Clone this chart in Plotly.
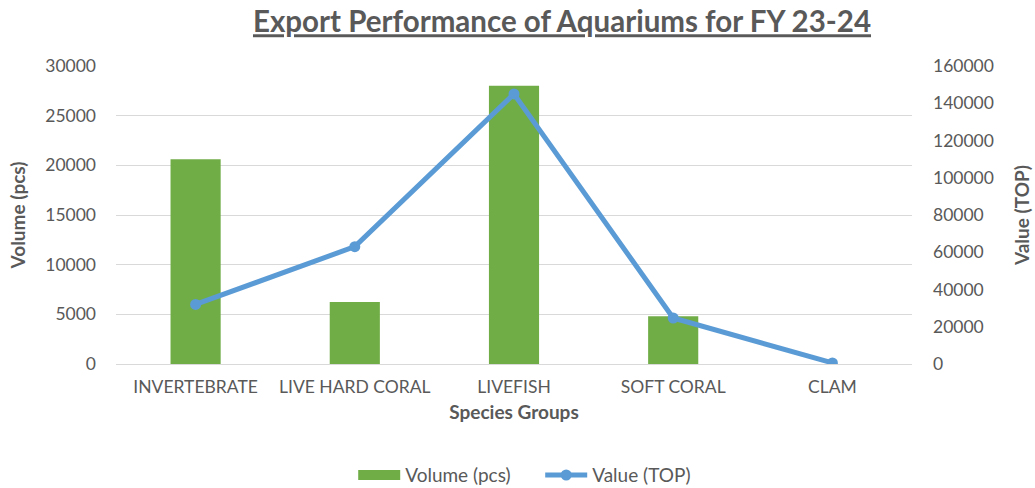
import plotly.graph_objects as go

categories = ["INVERTEBRATE", "LIVE HARD CORAL", "LIVEFISH", "SOFT CORAL", "CLAM"]
volume_pcs = [20600, 6250, 28000, 4800, 0]
value_top = [32000, 63000, 145000, 24700, 600]

FONT = "Lato"
GRAY = "#595959"
GREEN = "#70AD47"
BLUE = "#5B9BD5"

fig = go.Figure()
fig.add_trace(go.Bar(
    x=categories, y=volume_pcs, name="Volume (pcs)",
    marker=dict(color=GREEN, line=dict(width=0)),
    yaxis="y", showlegend=False,
))
# legend entry for the bars drawn as a wide block
fig.add_trace(go.Scatter(
    x=[None], y=[None], name="Volume (pcs)", mode="lines",
    line=dict(color=GREEN, width=12), yaxis="y",
))
fig.add_trace(go.Scatter(
    x=categories, y=value_top, name="Value (TOP)",
    mode="lines+markers",
    line=dict(color=BLUE, width=5),
    marker=dict(color=BLUE, size=11),
    yaxis="y2",
))

fig.update_layout(
    width=1035, height=488,
    paper_bgcolor="white", plot_bgcolor="white",
    margin=dict(l=116, r=123, t=66, b=124, autoexpand=False),
    bargap=0.685,
    font=dict(family=FONT, color=GRAY, size=16),
    title=dict(
        text="<u>Export Performance of Aquariums for FY 23-24</u>",
        x=0.543, xanchor="center", y=0.955, yanchor="middle",
        font=dict(family=FONT, size=29.5, color=GRAY, weight="bold"),
    ),
    xaxis=dict(
        title=dict(text="Species Groups", font=dict(size=19, weight="bold", color=GRAY), standoff=10),
        tickfont=dict(size=17.5, color=GRAY),
        showgrid=False, showline=False, ticks="", automargin=False,
        ticklabelstandoff=10,
    ),
    yaxis=dict(
        title=dict(text="Volume (pcs)", font=dict(size=19, weight="bold", color=GRAY), standoff=14),
        range=[0, 30000], dtick=5000, tickformat="d",
        gridcolor="#D9D9D9", gridwidth=1,
        zeroline=True, zerolinecolor="#D9D9D9", zerolinewidth=1,
        tickfont=dict(size=17.5, color=GRAY), ticks="",
        ticklabelstandoff=19, automargin=False,
    ),
    yaxis2=dict(
        title=dict(text="Value (TOP)", font=dict(size=19, weight="bold", color=GRAY), standoff=22),
        range=[0, 160000], dtick=20000, tickformat="d",
        overlaying="y", side="right", showgrid=False, zeroline=False,
        tickfont=dict(size=17.5, color=GRAY), ticks="",
        ticklabelstandoff=20, automargin=False,
    ),
    legend=dict(
        orientation="h", x=0.298, xanchor="left", y=-0.373, yanchor="middle",
        font=dict(size=19, color=GRAY), itemwidth=42, entrywidth=130,
    ),
)

fig.write_html(
    "out.html",
    config={"displayModeBar": False},
    post_script="document.body.style.margin='0px';",
)
